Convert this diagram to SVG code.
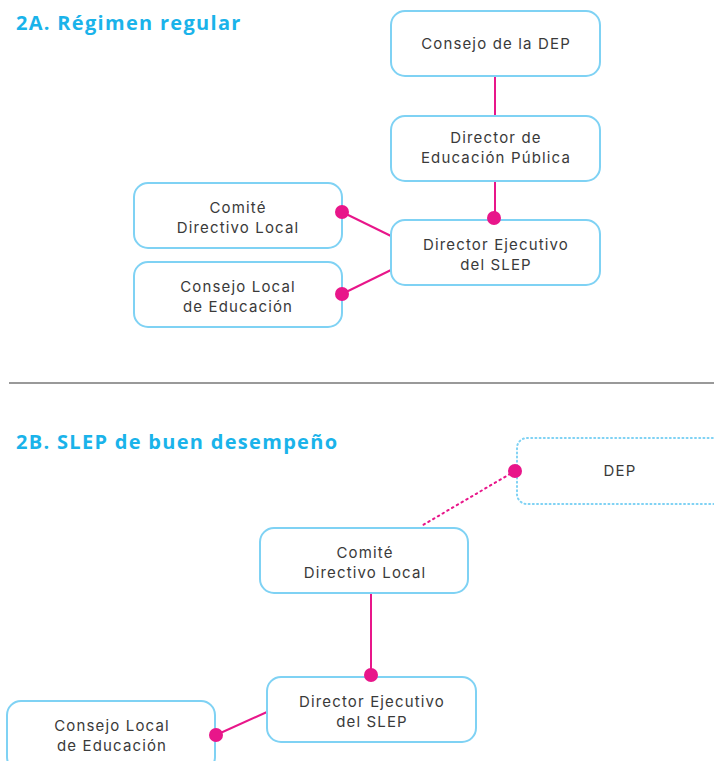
<svg xmlns="http://www.w3.org/2000/svg" width="714" height="761" viewBox="0 0 714 761">
<style>
.title{font-family:"Open Sans","Liberation Sans",sans-serif;font-weight:700;font-size:20px;letter-spacing:1.3px;fill:#1ab3ea}
.box{fill:#fff;stroke:#7fd2f4;stroke-width:2}
.dotted{fill:#fff;stroke:#7fd2f4;stroke-width:2;stroke-dasharray:1 3.2;stroke-linecap:round}
.lbl{font-family:Inter,"Open Sans","Liberation Sans",sans-serif;font-size:15px;letter-spacing:1.15px;fill:#3a3a3a;text-anchor:middle}
.con{stroke:#e8168a;stroke-width:2;fill:none}
.dot{fill:#e8168a}
</style>
<rect width="714" height="761" fill="#fff"/>
<text class="title" x="16" y="30">2A. Régimen regular</text>
<line x1="9" y1="383" x2="714" y2="383" stroke="#777" stroke-width="1.5"/>
<text class="title" x="16" y="449">2B. SLEP de buen desempeño</text>
<g id="connectors">
<line class="con" x1="495" y1="76" x2="495" y2="116"/>
<line class="con" x1="495" y1="181" x2="495" y2="218"/>
<line class="con" x1="342" y1="212" x2="391" y2="236"/>
<line class="con" x1="342" y1="294" x2="391" y2="270"/>
<line class="con" x1="515" y1="471" x2="423" y2="525" stroke-dasharray="1.5 4" stroke-linecap="round"/>
<line class="con" x1="371" y1="593" x2="371" y2="676"/>
<line class="con" x1="216" y1="735" x2="267" y2="712"/>
</g>
<g id="n1"><rect class="box" x="391" y="11" width="209" height="65" rx="14"/><text class="lbl" x="496" y="49">Consejo de la DEP</text></g>
<g id="n2"><rect class="box" x="391" y="116" width="209" height="65" rx="14"/><text class="lbl" x="496" y="143">Director de</text><text class="lbl" x="496" y="163">Educación Pública</text></g>
<g id="n3"><rect class="box" x="391" y="220" width="209" height="65" rx="14"/><text class="lbl" x="496" y="250">Director Ejecutivo</text><text class="lbl" x="496" y="270">del SLEP</text></g>
<g id="n4"><rect class="box" x="134" y="183" width="208" height="65" rx="14"/><text class="lbl" x="238" y="213">Comité</text><text class="lbl" x="238" y="233">Directivo Local</text></g>
<g id="n5"><rect class="box" x="134" y="262" width="208" height="65" rx="14"/><text class="lbl" x="238" y="292">Consejo Local</text><text class="lbl" x="238" y="312">de Educación</text></g>
<g id="n6"><rect class="dotted" x="517" y="438" width="220" height="66" rx="10"/><text class="lbl" x="620" y="476">DEP</text></g>
<g id="n7"><rect class="box" x="260" y="528" width="208" height="65" rx="14"/><text class="lbl" x="365" y="558">Comité</text><text class="lbl" x="365" y="578">Directivo Local</text></g>
<g id="n8"><rect class="box" x="267" y="677" width="209" height="65" rx="14"/><text class="lbl" x="372" y="707">Director Ejecutivo</text><text class="lbl" x="372" y="727">del SLEP</text></g>
<g id="n9"><rect class="box" x="7" y="701" width="208" height="70" rx="14"/><text class="lbl" x="112" y="731">Consejo Local</text><text class="lbl" x="112" y="751">de Educación</text></g>
<g id="dots">
<circle class="dot" cx="494" cy="218" r="7"/>
<circle class="dot" cx="342" cy="212" r="7"/>
<circle class="dot" cx="342" cy="294" r="7"/>
<circle class="dot" cx="515" cy="471" r="7"/>
<circle class="dot" cx="371" cy="675" r="7"/>
<circle class="dot" cx="216" cy="735" r="7"/>
</g>
</svg>
